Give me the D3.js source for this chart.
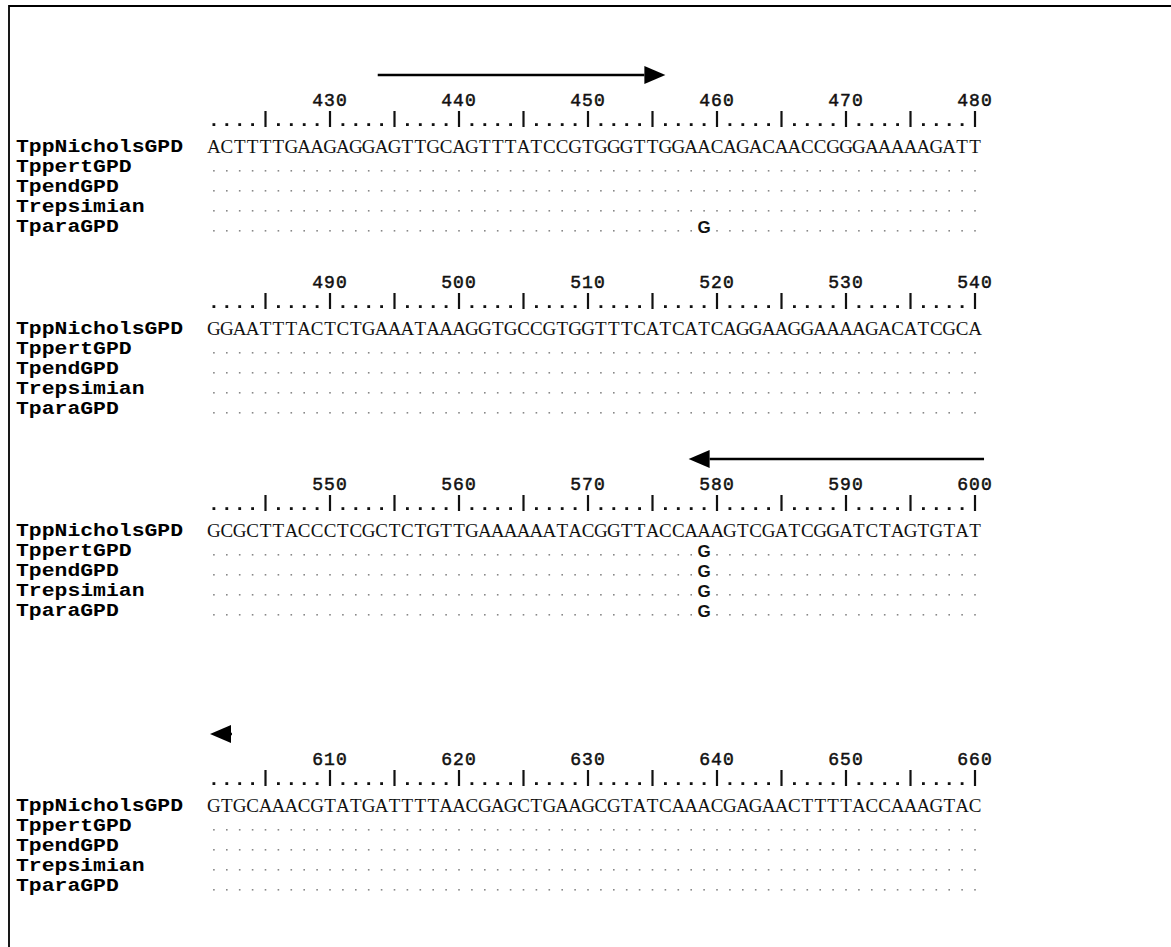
<!DOCTYPE html>
<html><head><meta charset="utf-8">
<script src="https://cdn.jsdelivr.net/npm/d3@7"></script>
<style>body{margin:0;background:#fff}svg{display:block}</style>
</head><body><script>
// ---------- data ----------
const taxa = ["TppNicholsGPD","TppertGPD","TpendGPD","Trepsimian","TparaGPD"];
const blockStarts = [421, 481, 541, 601];
const refSeqs = [
  "ACTTTTGAAGAGGAGTTGCAGTTTATCCGTGGGTTGGAACAGACAACCGGGAAAAAGATT",
  "GGAATTTACTCTGAAATAAAGGTGCCGTGGTTTCATCATCAGGAAGGAAAAGACATCGCA",
  "GCGCTTACCCTCGCTCTGTTGAAAAAATACGGTTACCAAAGTCGATCGGATCTAGTGTAT",
  "GTGCAAACGTATGATTTTAACGAGCTGAAGCGTATCAAACGAGAACTTTTACCAAAGTAC"
];
const variantTaxa = ["TparaGPD","TppertGPD","TpendGPD","Trepsimian","TparaGPD"];
const variantPos  = [459, 579, 579, 579, 579];
const variantBase = ["G","G","G","G","G"];
// primer arrows: block index, tail position, tip position
const arrowBlock = [0, 2, 3];
const arrowTail  = [433.7, 600.7, 602.4];
const arrowTip   = [456.0, 577.8, 600.7];

// ---------- layout ----------
const W = 1171, H = 947;
const blockY = [146, 328, 530, 805];   // centre of first sequence row
const rowGap = 20;
const colStep = 12.9;
const x0 = 213.9;

const svg = d3.select("body").append("svg").attr("width", W).attr("height", H);

// frame (top and left)
svg.append("path").attr("d", `M9,${H} L9,6 L${W},6`)
  .attr("fill","none").attr("stroke","#000").attr("stroke-width",1.8);

const x = d3.scaleLinear().domain([0, 59]).range([x0, x0 + 59*colStep]);

blockStarts.forEach((start, b) => {
  const y0 = blockY[b];
  const g = svg.append("g");
  const positions = d3.range(start, start + 60);
  const px = p => x(p - start);

  // ruler
  const rulerY = y0 - 20;
  g.selectAll("rect.dot").data(positions.filter(p => p % 5 !== 0)).join("rect")
    .attr("x", p => px(p) - 1.4).attr("y", rulerY - 2.8).attr("width", 2.8).attr("height", 2.8)
    .attr("fill", "#111");
  g.selectAll("line.tick").data(positions.filter(p => p % 5 === 0)).join("line")
    .attr("x1", px).attr("x2", px).attr("y1", rulerY - 15).attr("y2", rulerY + 1)
    .attr("stroke", "#111").attr("stroke-width", 2.2);
  g.selectAll("text.num").data(positions.filter(p => p % 10 === 0)).join("text")
    .attr("x", px).attr("y", y0 - 40).attr("text-anchor","middle")
    .attr("font-family","Liberation Mono, monospace").attr("font-size", 18)
    .attr("letter-spacing", 1).attr("fill","#111").attr("stroke","#111").attr("stroke-width",0.5)
    .text(p => p);

  // taxon labels
  taxa.forEach((t, i) => {
    g.append("text").attr("x", 16).attr("y", y0 + i*rowGap + 6)
      .attr("font-family","Liberation Mono, monospace").attr("font-weight","bold")
      .attr("font-size", 18).attr("textLength", t.length*12.85).attr("lengthAdjust","spacingAndGlyphs")
      .attr("fill","#000").text(t);
  });

  // reference sequence
  const seq = refSeqs[b].split("");
  g.selectAll("text.base").data(seq).join("text")
    .attr("x", (c, i) => x(i)).attr("y", y0 + 6.5).attr("text-anchor","middle")
    .attr("font-family","Liberation Serif, serif").attr("font-size", 19)
    .attr("fill","#111").text(c => c);

  // other taxa rows
  taxa.slice(1).forEach((t, k) => {
    const ry = y0 + (k+1)*rowGap;
    const diffs = new Map();
    variantTaxa.forEach((vt, j) => {
      if (vt === t && variantPos[j] >= start && variantPos[j] < start + 60) diffs.set(variantPos[j], variantBase[j]);
    });
    g.selectAll(null).data(positions.filter(p => !diffs.has(p))).join("rect")
      .attr("x", p => px(p) - 0.8).attr("y", ry + 4).attr("width", 1.6).attr("height", 1.6)
      .attr("fill", "#888");
    g.selectAll(null).data([...diffs.entries()]).join("text")
      .attr("x", d => px(d[0])).attr("y", ry + 6.5).attr("text-anchor","middle")
      .attr("font-family","Liberation Sans, sans-serif").attr("font-weight","bold").attr("font-size", 17)
      .attr("fill","#111").text(d => d[1]);
  });
});

// primer arrows
arrowBlock.forEach((b, i) => {
  const start = blockStarts[b];
  const ay = blockY[b] - 71;
  const xt = x(arrowTail[i] - start), xp = x(arrowTip[i] - start);
  const dir = xp > xt ? 1 : -1;
  const headLen = 21, headH = 9;
  const xb = xp - dir*headLen;
  svg.append("line").attr("x1", xt).attr("x2", xb).attr("y1", ay).attr("y2", ay)
    .attr("stroke","#000").attr("stroke-width", Math.abs(xp - xt) > headLen ? 2.4 : 3.5);
  svg.append("path").attr("d", `M${xp},${ay} L${xb},${ay-headH} L${xb},${ay+headH} Z`).attr("fill","#000");
});
</script></body></html>
